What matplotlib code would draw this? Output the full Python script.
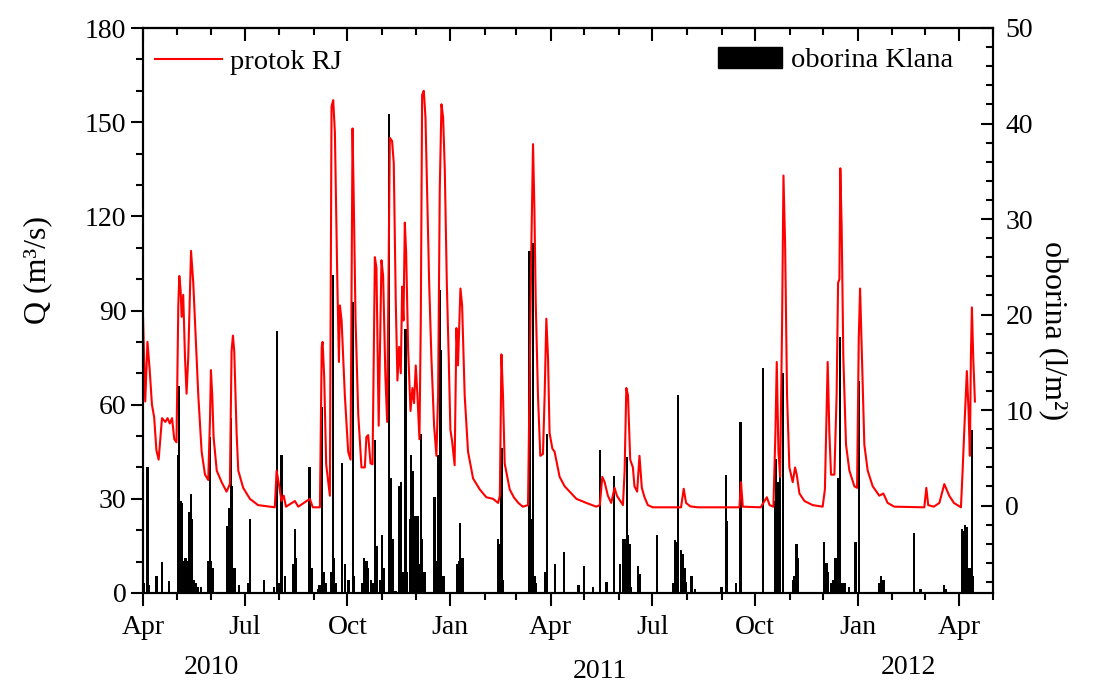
import numpy as np
import matplotlib
matplotlib.use("Agg")
import matplotlib.pyplot as plt
import matplotlib.dates as mdates
from matplotlib.ticker import MultipleLocator
from matplotlib.patches import Patch
from matplotlib.lines import Line2D

plt.rcParams['font.family'] = ['Liberation Serif', 'DejaVu Serif']
plt.rcParams['font.size'] = 20

# discharge Rjecina (days after 1 Apr 2010, m3/s)
q_days = [0, 2, 4, 6, 8, 10, 12, 14, 17, 20, 22, 24, 26, 28, 30, 31.6, 32.5, 33.7, 34.6, 36,
          37.6, 39, 40.5, 43, 45, 46.5, 49.5, 52.5, 55.5, 58.4, 60, 60.8, 62, 63.2, 66, 70.4,
          74.8, 77.8, 79.3, 80.5, 81.7, 83.8, 85.3, 89.7, 95.7, 103, 118, 119.6, 122, 124, 126,
          128, 136, 139, 149.4, 152, 158.4, 160, 160.8, 162.2, 164, 167.3, 168.8, 170.3, 171.8,
          174, 175.4, 176.3, 177.8, 180.7, 183.7, 185.8, 187.6, 188.8, 190.3, 192.7, 195.6,
          198.6, 200, 201.6, 203.7, 205.5, 207.6, 209, 211, 213.5, 215, 217, 218.6, 221, 223,
          224.5, 226.3, 227.8, 229.3, 230.8, 232, 233.2, 234.4, 235.6, 237.4, 239.5, 241.2,
          242.7, 244.2, 245.7, 247.5, 248.7, 249.9, 251.4, 252.9, 254.7, 256.2, 258.2, 260.6,
          262.7, 264.2, 265.7, 267.2, 268.7, 270.2, 272, 273.7, 275.2, 276.7, 279, 280.6, 282,
          284.2, 285.7, 288, 291, 295.5, 301.5, 307.4, 313.4, 317.9, 319.5, 320.9, 322.3, 323.8,
          328.3, 332, 336, 340, 344.7, 346.2, 347.7, 349.2, 350.4, 351.6, 353.6, 355.7, 358.1,
          359.6, 361.1, 362.6, 364, 366.5, 368.5, 370.6, 373, 377.5, 382, 388, 396.9, 405.8,
          409, 411.2, 413.3, 416.2, 419.2, 422.2, 424.3, 429.7, 431.2, 432.7, 434.2, 436.2,
          438.6, 440, 442.4, 444.5, 446.6, 449, 452, 456.4, 481.7, 484.1, 486.2, 490, 496.6,
          534, 535.4, 537, 553, 558.5, 561, 564.4, 566.2, 567.4, 568.9, 570.4, 572.2, 573.4,
          574.9, 576.6, 578.7, 581.7, 583.8, 585.3, 587.7, 592.2, 599.6, 608.5, 610.5, 613,
          614.5, 616, 619, 621, 622.3, 623.5, 624.3, 625.5, 627, 629.4, 632.4, 636.9, 639.3,
          640.8, 642, 643.7, 645.8, 648.8, 653.3, 659.2, 662.8, 666.7, 672.6, 699.5, 701.3,
          703, 708, 713, 717.4, 721.8, 726, 732.3, 733.8, 735.9, 737.6, 739.1, 740.3, 741.2,
          742.1, 743.3, 744.8]
protok = [88, 61, 80, 71, 60, 56, 45.5, 42.5, 55.7, 54.5, 55.7, 54, 55.7, 49, 48, 91.6, 101, 96.4, 88, 95,
          75, 63.5, 75, 109, 98.8, 86.8, 63, 45, 37.7, 36, 55.7, 71, 63, 49.7, 39, 35.3,
          32.3, 34.7, 77, 82, 77, 51, 39, 33.5, 30, 28, 27.3, 39, 34, 29.3, 31,
          27.5, 29.3, 27.5, 30, 27.3, 27.3, 78.4, 80, 69, 41, 31, 155, 157, 146.7,
          98.8, 73.6, 91.6, 86.8, 63, 45, 42.5, 148, 122.7, 86.8, 57, 40,
          40, 49.7, 50.3, 41.3, 41, 107, 103.6, 53.3, 106, 101, 69, 54.5, 145, 144,
          137, 92.8, 67.7, 78.4, 70, 97.6, 86.8, 118, 108.4, 77.2, 58, 65.3,
          60.5, 72.5, 63, 49, 86.8, 158.7, 160, 151.5, 122.7, 98.8, 75, 53.3,
          43.7, 63, 128.7, 155.7, 151.5, 134.7, 98.8, 75, 52, 48.5, 40.7, 84.4, 72.5,
          97, 91.6, 63, 45, 36.5, 33, 30.5, 30, 28.7, 31, 76, 63, 41.3,
          33, 30.5, 28.7, 27.5, 28, 69, 110.8, 143, 122.7, 92.8, 63, 43.7, 44.3,
          63, 87.4, 75, 51, 46, 45, 41.3, 37, 34, 32.3, 30, 28.7, 27.5,
          28, 37, 35.3, 31, 28.7, 33.5, 31, 28, 39, 65.3, 63, 42.5,
          40, 34, 32.3, 43.7, 33.5, 30.5, 28, 27.3, 27.3, 33.2, 28.7, 27.6, 27.3,
          27.3, 35.3, 27.5, 27.3, 30.5, 28, 27.5, 51, 73.6, 45, 37, 86.8, 133,
          110.8, 63, 40, 35.3, 40, 37.7, 31.7, 29.3, 28, 27.5, 33, 73.6,
          51, 37.7, 37.7, 63, 98.8, 100, 135.3, 116.8, 75, 47.3, 39, 34, 33.5,
          80.8, 97, 75, 47.3, 39, 34, 31, 31.7, 28.7, 27.5, 27.3, 33.5,
          28, 27.5, 28.7, 34.7, 31, 28.7, 27.3, 39, 57, 70.7, 58, 43.7, 75,
          91, 75, 61]

# daily precipitation Klana (days after 1 Apr 2010, bar height in l/m2 above the axis bottom)
p_days = [1, 4, 5, 12, 17, 23, 31, 32, 34, 35, 37, 38, 40, 41, 43, 44, 46, 47, 49, 52, 58, 60, 61, 63,
          75, 77, 79, 80, 82, 86, 94, 96, 108, 117, 120, 122, 124, 127, 134, 136, 137, 149, 151,
          157, 158, 160, 162, 164, 168, 170, 171, 173, 178, 181, 184, 188, 189, 196, 198, 200,
          201, 204, 206, 208, 209, 212, 214, 216, 220, 222, 224, 226, 229, 231, 233, 235, 236,
          239, 240, 242, 243, 244, 246, 247, 249, 250, 252, 261, 263, 264, 266, 267, 269, 281,
          283, 284, 286, 318, 319, 321, 322, 346, 348, 349, 351, 352, 360, 362, 369, 377, 390,
          395, 403, 409, 415, 422, 427, 430, 431, 433, 434, 436, 437, 443, 445, 460, 475, 476,
          477, 479, 482, 483, 485, 486, 491, 494, 518, 522, 523, 531, 535, 555, 566, 567, 569,
          570, 573, 582, 583, 585, 586, 610, 612, 613, 616, 618, 620, 622, 623, 624, 626, 628,
          632, 638, 641, 659, 661, 663, 690, 696, 717, 719, 733, 735, 736, 738, 739, 740, 742,
          743]
oborina = [1, 13.2, 0.8, 1.8, 3.2, 1.3, 14.4, 21.7, 9.6, 9.4, 3.3, 3.7, 3.3, 8.5, 10.4, 7.7, 1.4, 1, 0.6, 0.6, 3.3, 16.3, 3.3, 2.6,
           7, 8.9, 18.3, 11.2, 2.6, 0.8, 1, 7.7, 1.4, 0.6, 27.4, 1, 14.4, 1.8, 3, 6.7, 3.7, 13.2, 2.6,
           0.4, 0.8, 19.5, 2.2, 1, 2.2, 33.3, 3.7, 1, 13.6, 3, 1.4, 30.5, 1.8, 1, 3.7, 3.3,
           2.6, 1.4, 1, 16, 4.9, 1.4, 6.1, 2.6, 50.2, 12, 5.7, 0.2, 11.2, 11.6, 2.2, 27.6, 2.2,
           7.7, 14.4, 12.8, 3.7, 8.1, 8.1, 3, 16.7, 5.7, 2.2, 10, 3.3, 14.4, 31.7, 25.4, 1.8, 3,
           3.3, 7.3, 3.7, 5.7, 5.1, 15.2, 1.4, 35.8, 7.7, 36.6, 1.8, 1, 2.2, 16.7, 3, 4.3, 0.8,
           2.8, 0.6, 15, 1.2, 12.2, 3, 5.7, 5.7, 14.2, 6.1, 5.1, 0.6, 2.8, 2, 6.1, 1, 5.5,
           5.3, 20.7, 4.5, 4.1, 2.6, 1.2, 1.8, 0.4, 0.6, 12.4, 7.5, 1, 17.9, 23.6, 9.6, 14, 11.6,
           12.8, 23, 1.4, 1.8, 5.1, 3.7, 5.3, 3.1, 2.2, 1, 1.4, 3.7, 12, 11.8, 26.8, 1, 1,
           0.6, 5.3, 22.2, 1, 1.8, 1.4, 6.3, 0.4, 0.8, 0.4, 6.7, 6.5, 7.1, 6.9, 1.6, 2.6, 17.1,
           1.8]

year_labels = ['2010', '2011', '2012']

start = mdates.date2num(np.datetime64('2010-04-01'))
end = mdates.date2num(np.datetime64('2012-05-01'))
q_x = start + np.array(q_days)
p_x = start + np.array(p_days)
P_MIN = -9.16

fig = plt.figure(figsize=(10.95, 6.97), dpi=100)
ax = fig.add_axes([143 / 1095, 104 / 697, 850 / 1095, 565 / 697])
ax2 = ax.twinx()

# bars are drawn up from the bottom of the right axis
ax2.bar(p_x, oborina, bottom=P_MIN, width=2.0, color='black', linewidth=0)
ax.plot(q_x, protok, color='red', lw=1.5)
ax.set_zorder(ax2.get_zorder() + 1)
ax.patch.set_visible(False)

ax.set_xlim(start, end)
ax.set_ylim(0, 180)
ax2.set_ylim(P_MIN, 50)

ax.xaxis.set_major_locator(mdates.MonthLocator(bymonth=[1, 4, 7, 10]))
ax.xaxis.set_minor_locator(mdates.MonthLocator())
ax.xaxis.set_major_formatter(mdates.DateFormatter('%b'))
ax.yaxis.set_major_locator(MultipleLocator(30))
ax.yaxis.set_minor_locator(MultipleLocator(10))
ax2.yaxis.set_major_locator(MultipleLocator(10))
ax2.yaxis.set_minor_locator(MultipleLocator(2))

ax.tick_params(axis='x', which='major', direction='out', length=9, width=1.5, pad=7, top=False)
ax.tick_params(axis='x', which='minor', direction='out', length=5, width=1.5, top=False)
ax.tick_params(axis='y', which='major', direction='out', length=9, width=1.5, pad=3, right=False)
ax.tick_params(axis='y', which='minor', direction='out', length=5, width=1.5, right=False)
ax2.tick_params(axis='y', which='major', direction='in', length=9, width=1.5, pad=9)
ax2.tick_params(axis='y', which='minor', direction='in', length=5, width=1.5)

top = ax.secondary_xaxis('top')
top.xaxis.set_major_locator(mdates.MonthLocator(bymonth=[1, 4, 7, 10]))
top.xaxis.set_minor_locator(mdates.MonthLocator())
top.tick_params(which='major', direction='in', length=9, width=1.5, labeltop=False)
top.tick_params(which='minor', direction='in', length=5, width=1.5)
top.spines['top'].set_linewidth(1.5)

for a in (ax, ax2):
    for s in a.spines.values():
        s.set_linewidth(1.5)

ax.set_ylabel('Q (m³/s)', fontsize=23)
ax.yaxis.set_label_coords(-0.107, 0.572)
ax2.set_ylabel('oborina (l/m²)', fontsize=23, rotation=-90)
ax2.yaxis.set_label_coords(1.087, 0.465)

# year labels under the month ticks
for lbl, xp, yp in zip(year_labels, [211, 600, 908], [668, 672, 667]):
    fig.text(xp / 1095, 1 - yp / 697, lbl, ha='center', va='center', fontsize=20)

leg1 = ax.legend(handles=[Line2D([], [], color='red', lw=1.5)], labels=['protok RJ'],
                 loc='upper left', bbox_to_anchor=(0.014, 0.962), frameon=False, fontsize=20.5,
                 handlelength=2.35, handletextpad=0.28, borderpad=0, borderaxespad=0)
leg2 = ax.legend(handles=[Patch(color='black')], labels=['oborina Klana'],
                 loc='upper left', bbox_to_anchor=(0.676, 0.966), frameon=False, fontsize=20.5,
                 handlelength=2.25, handleheight=0.74, handletextpad=0.32, borderpad=0, borderaxespad=0)
ax.add_artist(leg1)

fig.savefig('out.png', dpi=100)
